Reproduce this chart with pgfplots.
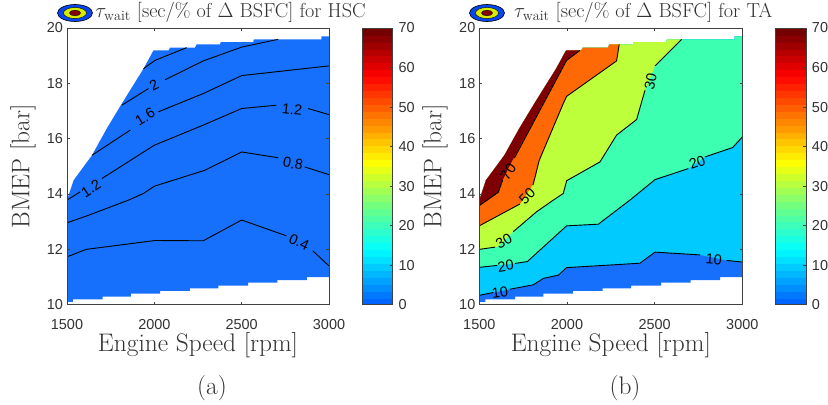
\documentclass[border=0pt]{standalone}
\usepackage{fontspec}
\usepackage{pgfplots}
\pgfplotsset{compat=1.18}
\newfontfamily\tickfont{Liberation Sans}
\definecolor{axgray}{RGB}{64,64,64}
\definecolor{txtgray}{RGB}{50,50,50}
\definecolor{cA}{RGB}{22,112,252}
\definecolor{cB}{RGB}{0,202,255}
\definecolor{cC}{RGB}{60,255,178}
\definecolor{cD}{RGB}{190,255,60}
\definecolor{cE}{RGB}{255,105,5}
\definecolor{cF}{RGB}{125,0,5}
\definecolor{iB}{RGB}{5,70,240}
\definecolor{iY}{RGB}{215,235,0}
\definecolor{iR}{RGB}{135,0,10}
\tikzset{lab/.style={font=\tickfont\fontsize{14.5}{15}\selectfont,inner sep=0pt,text=black}}
\pgfplotsset{
  colormap={tw}{rgb255(0pt)=(0,90,255) rgb255(14pt)=(0,255,255) rgb255(25pt)=(110,255,130) rgb255(36pt)=(255,255,0) rgb255(47pt)=(255,128,0) rgb255(58pt)=(255,0,0) rgb255(70pt)=(105,0,0)},
  panel/.style={
    scale only axis, width=262bp, height=276.7bp, anchor=south west,
    xmin=1500,xmax=3000,ymin=10,ymax=20,
    xtick={1500,2000,2500,3000},ytick={10,12,...,20},
    tick align=inside, major tick length=2.7bp, tick style={axgray,line width=0.7bp},
    axis line style={axgray,line width=0.9bp}, axis on top,
    tick label style={font=\tickfont\fontsize{14.5}{15}\selectfont,text=txtgray},
    scaled ticks=false, /pgf/number format/assume math mode=true,
    /pgf/number format/1000 sep={},
    xticklabel style={yshift=-11.5bp}, yticklabel style={xshift=-0.5bp},
    xlabel style={font=\fontsize{25.5}{27}\selectfont,text=txtgray,at={(axis description cs:0.5,-0.147)},anchor=center},
    ylabel style={font=\fontsize{25.5}{27}\selectfont,text=txtgray,at={(axis description cs:-0.168,0.5)},anchor=center,rotate=0},
    title style={font=\fontsize{20.3}{22}\selectfont,text=txtgray,at={(axis description cs:0.5,1.0)},anchor=base,yshift=4.7bp,xshift=32.5bp},
    xlabel={Engine Speed [rpm]},ylabel={BMEP [bar]},
    colormap name=tw, point meta min=0, point meta max=70,
    colorbar, colorbar sampled,
    colorbar style={samples=41,scale only axis,width=30.5bp,height=276.7bp,
      at={(1.126,1)},anchor=north west,
      ytick={0,10,...,70},ytick pos=right,yticklabel pos=right,
      tick align=inside,major tick length=2.7bp,
      tick label style={font=\tickfont\fontsize{14.5}{15}\selectfont,text=txtgray},
      /pgf/number format/assume math mode=true,
      yticklabel style={xshift=2.5bp},
      axis line style={axgray,line width=0.9bp}},
  },
  ctr/.style={black,line width=0.9bp,forget plot,no marks},
}
\newcommand{\icon}[2]{%
  \fill[iB,draw=black,line width=0.6bp] (#1,#2) ellipse (17.5bp and 8.5bp);
  \fill[iY,draw=black,line width=0.4bp] (#1,#2) ellipse (11.5bp and 5.5bp);
  \fill[iR,draw=black,line width=0.4bp] (#1,#2) ellipse (5.5bp and 2.8bp);
}
\begin{document}
\begin{tikzpicture}[x=1bp,y=1bp]
\useasboundingbox (0,0) rectangle (828,404);
% ---------- (a) HSC
\begin{axis}[panel,at={(67bp,99.3bp)},title={$\tau_{\mathrm{wait}}$ [sec/\% of $\Delta$ BSFC] for HSC}]
\addplot[fill=cA,draw=none,forget plot] coordinates {
 (1500,10.1)(1534,10.1)(1534,10.19)(1704,10.19)(1704,10.29)(1865,10.29)(1865,10.4)(2033,10.4)(2033,10.5)(2204,10.5)(2204,10.59)(2366,10.59)(2366,10.69)(2537,10.69)(2537,10.8)(2705,10.8)(2705,10.89)(2874,10.89)(2874,11)(3000,11)
 (3000,19.7)(2956,19.7)(2956,19.59)(2570,19.59)(2566,19.49)(2380,19.49)(2376,19.41)(2242,19.41)(2233,19.29)(2090,19.29)(2081,19.19)(1995,19.19)(1938,18.53)(1814,17.27)(1728,16.37)(1643,15.4)(1538,14.5)(1500,13.78)} -- cycle;
\addplot[ctr] coordinates {(1500,11.73)(1610,12.0)(2004,12.32)(2280,12.31)(2500,13.06)(2756,12.49)};
\addplot[ctr] coordinates {(2907,11.95)(3000,11.4)};
\addplot[ctr] coordinates {(1500,12.96)(1618,13.22)(1852,13.78)(1938,14.02)(1999,14.28)(2290,14.86)(2500,15.52)(2709,15.31)};
\addplot[ctr] coordinates {(2861,14.98)(3000,14.7)};
\addplot[ctr] coordinates {(1500,13.78)(1576,14.08)};
\addplot[ctr] coordinates {(1700,14.56)(1999,15.76)(2280,16.49)(2500,17.09)(2699,17.21)};
\addplot[ctr] coordinates {(2880,17.09)(3000,16.87)};
\addplot[ctr] coordinates {(1643,15.4)(1862,16.31)};
\addplot[ctr] coordinates {(2023,16.97)(2280,17.63)(2500,18.28)(2728,18.44)(3000,18.63)};
\addplot[ctr] coordinates {(1814,17.21)(1966,17.81)};
\addplot[ctr] coordinates {(2062,18.13)(2280,18.81)(2500,19.31)(2709,19.59)};
\addplot[ctr] coordinates {(1938,18.53)(2004,18.83)(2185,19.29)};
\node[lab,rotate=28] at (axis cs:1999,17.93) {2};
\node[lab,rotate=32] at (axis cs:1947,16.79) {1.6};
\node[lab,rotate=33] at (axis cs:1637,14.2) {1.2};
\node[lab,rotate=-6] at (axis cs:2789,17.05) {1.2};
\node[lab,rotate=-10] at (axis cs:2794,15.1) {0.8};
\node[lab,rotate=-25] at (axis cs:2829,12.27) {0.4};
\end{axis}
% ---------- (b) TA
\begin{axis}[panel,at={(479.3bp,99.3bp)},width=263bp,title={$\tau_{\mathrm{wait}}$ [sec/\% of $\Delta$ BSFC] for TA}]
\addplot[fill=cA,draw=none,forget plot] coordinates {
 (1500,10.1)(1534,10.1)(1534,10.19)(1704,10.19)(1704,10.29)(1865,10.29)(1865,10.4)(2033,10.4)(2033,10.5)(2204,10.5)(2204,10.59)(2366,10.59)(2366,10.69)(2537,10.69)(2537,10.8)(2705,10.8)(2705,10.89)(2874,10.89)(2874,11)(3000,11)
 (3000,19.7)(2956,19.7)(2956,19.59)(2570,19.59)(2566,19.49)(2380,19.49)(2376,19.41)(2242,19.41)(2233,19.29)(2090,19.29)(2081,19.19)(1995,19.19)(1938,18.53)(1814,17.27)(1728,16.37)(1643,15.4)(1538,14.5)(1500,13.78)} -- cycle;
\addplot[fill=cB,draw=none,forget plot] coordinates {
 (1500,10.34)(1580,10.44)(1675,10.56)(1808,10.72)(1865,10.95)(1951,11.07)(1998,11.34)(2416,11.5)(2502,11.9)(2758,11.8)(2911,11.6)(3000,11.54)
 (3000,19.7)(2956,19.7)(2956,19.59)(2570,19.59)(2566,19.49)(2380,19.49)(2376,19.41)(2242,19.41)(2233,19.29)(2090,19.29)(2081,19.19)(1995,19.19)(1938,18.53)(1814,17.27)(1728,16.37)(1643,15.4)(1538,14.5)(1500,13.78)} -- cycle;
\addplot[fill=cC,draw=none,forget plot] coordinates {
 (1500,11.35)(1603,11.42)(1703,11.49)(1774,11.56)(1998,12.85)(2179,12.91)(2359,13.78)(2502,14.52)(2692,14.92)(2787,15.34)(2945,15.68)(3000,16.06)
 (3000,19.7)(2956,19.7)(2956,19.59)(2570,19.59)(2566,19.49)(2380,19.49)(2376,19.41)(2242,19.41)(2233,19.29)(2090,19.29)(2081,19.19)(1995,19.19)(1938,18.53)(1814,17.27)(1728,16.37)(1643,15.4)(1538,14.5)(1500,13.78)} -- cycle;
\addplot[fill=cD,draw=none,forget plot] coordinates {
 (1500,12.0)(1603,12.1)(1694,12.64)(1827,13.36)(1922,13.78)(1979,14.02)(1998,14.48)(2188,15.16)(2283,16.13)(2397,16.69)(2445,17.75)(2502,18.63)(2654,19.59)
 (2570,19.59)(2566,19.49)(2380,19.49)(2376,19.41)(2242,19.41)(2233,19.29)(2090,19.29)(2081,19.19)(1995,19.19)(1938,18.53)(1814,17.27)(1728,16.37)(1643,15.4)(1538,14.5)(1500,13.78)} -- cycle;
\addplot[fill=cE,draw=none,forget plot] coordinates {
 (1500,12.85)(1732,13.64)(1812,14.4)(1842,15.22)(1979,17.27)(1998,17.53)(2283,18.81)(2298,19.41)
 (2242,19.41)(2233,19.29)(2090,19.29)(2081,19.19)(1995,19.19)(1938,18.53)(1814,17.27)(1728,16.37)(1643,15.4)(1538,14.5)(1500,13.78)} -- cycle;
\addplot[fill=cF,draw=none,forget plot] coordinates {
 (1500,13.58)(1608,14.06)(1633,14.5)(1684,15.16)(1998,18.83)(2074,19.19)
 (1995,19.19)(1938,18.53)(1814,17.27)(1728,16.37)(1643,15.4)(1538,14.5)(1500,13.78)} -- cycle;
% contours
\addplot[ctr] coordinates {(1500,13.58)(1608,14.06)(1633,14.5)};
\addplot[ctr] coordinates {(1700,15.3)(1998,18.83)(2074,19.19)};
\addplot[ctr] coordinates {(1500,12.85)(1732,13.64)};
\addplot[ctr] coordinates {(1806,14.32)(1842,15.22)(1979,17.27)(1998,17.53)(2283,18.81)(2298,19.41)};
\addplot[ctr] coordinates {(1500,12.0)(1590,12.08)};
\addplot[ctr] coordinates {(1694,12.64)(1827,13.36)(1922,13.78)(1979,14.02)(1998,14.48)(2188,15.16)(2283,16.13)(2397,16.69)(2445,17.75)};
\addplot[ctr] coordinates {(2502,18.63)(2654,19.59)};
\addplot[ctr] coordinates {(1500,11.35)(1603,11.42)};
\addplot[ctr] coordinates {(1703,11.49)(1774,11.56)(1998,12.85)(2179,12.91)(2359,13.78)(2502,14.52)(2692,14.92)};
\addplot[ctr] coordinates {(2787,15.34)(2945,15.68)(3000,16.06)};
\addplot[ctr] coordinates {(1500,10.34)(1580,10.44)};
\addplot[ctr] coordinates {(1675,10.56)(1808,10.72)(1865,10.95)(1951,11.07)(1998,11.34)(2416,11.5)(2502,11.9)(2758,11.8)};
\addplot[ctr] coordinates {(2911,11.6)(3000,11.54)};
\node[lab,rotate=55] at (axis cs:1665,14.81) {70};
\node[lab,rotate=45] at (axis cs:1772,13.93) {50};
\node[lab,rotate=30] at (axis cs:1640,12.3) {30};
\node[lab,rotate=78] at (axis cs:2477,18.05) {30};
\node[lab,rotate=8] at (axis cs:1650,11.4) {20};
\node[lab,rotate=20] at (axis cs:2743,15.14) {20};
\node[lab,rotate=8] at (axis cs:1618,10.44) {10};
\node[lab,rotate=-5] at (axis cs:2838,11.65) {10};
\end{axis}
\icon{75}{391}
\icon{487}{391}
\node[font=\fontsize{25.5}{27}\selectfont,text=txtgray] at (212,15.5) {(a)};
\node[font=\fontsize{25.5}{27}\selectfont,text=txtgray] at (625,15.5) {(b)};
\end{tikzpicture}
\end{document}
